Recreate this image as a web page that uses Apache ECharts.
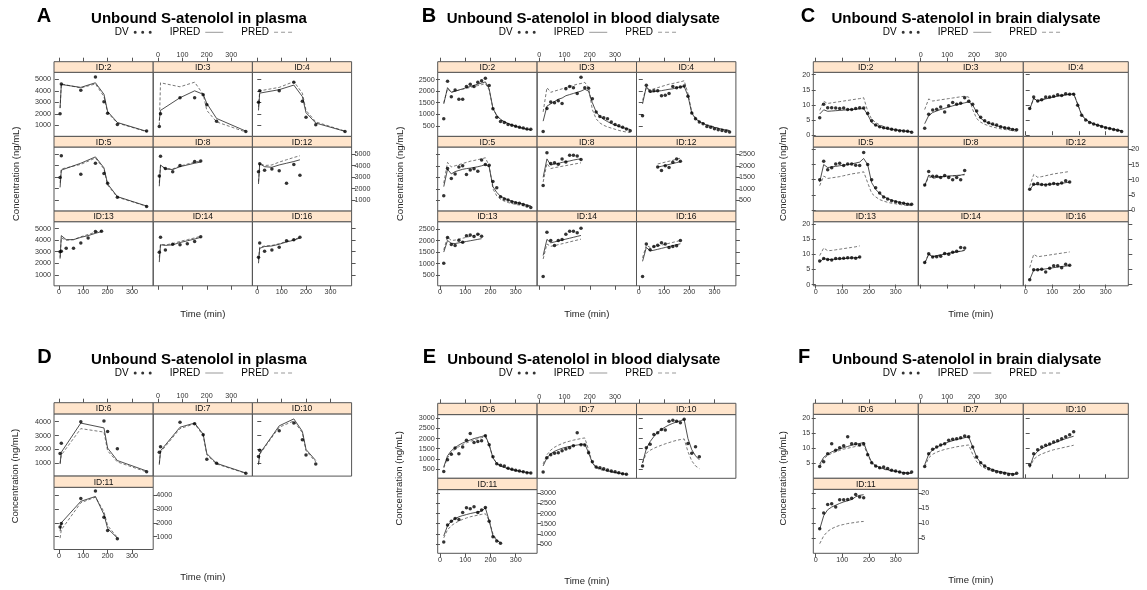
<!DOCTYPE html>
<html><head><meta charset="utf-8">
<script src="https://cdn.jsdelivr.net/npm/echarts@6/dist/echarts.min.js"></script>
<style>html,body{margin:0;padding:0;background:#fff}#c{width:1147px;height:590px}</style>
</head><body><div id="c"></div>
<script>
// ---------- sampling times ----------
const T_PL   = [5, 10, 90, 150, 185, 200, 240, 360];
const T_PL6  = [5, 10, 90, 185, 200, 240, 360];
const T_PL10 = [5, 10, 90, 150, 185, 200, 240];
const T_PL8  = [5, 10, 30, 60, 90, 150, 175];
const T_PLS  = [5, 10, 30, 60, 90, 120, 150, 175];
const T_DL   = [15,30,45,60,75,90,105,120,135,150,165,180,195,210,225,240,255,270,285,300,315,330,345,360];
const T_DL345= [15,30,45,60,75,90,105,120,135,150,165,180,195,210,225,240,255,270,285,300,315,330,345];
const T_DL240= [15,30,45,60,75,90,105,120,135,150,165,180,195,210,225,240];
const T_DS   = [15,30,45,60,75,90,105,120,135,150,165];
const T_DS180= [15,30,45,60,75,90,105,120,135,150,165,180];
const T_D12  = [75,90,105,120,135,150,165];

// ---------- A: plasma ----------
const A_ids = ['ID:2','ID:3','ID:4','ID:5','ID:8','ID:12','ID:13','ID:14','ID:16'];
const A_time = [T_PL,T_PL,T_PL,T_PL,T_PL8,T_PLS,T_PLS,T_PLS,T_PLS];
const A_dv = [
 [2000,4600,4050,5200,3050,2050,1080,500],
 [900,2000,3400,3400,3670,2800,1350,475],
 [3000,4000,4000,4740,3100,1700,1050,475],
 [2950,4850,3250,4200,3300,2450,1250,450],
 [3100,4800,3750,3450,4000,4350,4400],
 [3450,4150,3600,3700,3550,2450,4100,3150],
 [3000,3050,3300,3300,3750,4200,4750,4780],
 [2950,4250,3150,3650,3600,3700,3900,4300],
 [2520,3750,3050,3150,3400,3950,4050,4250]];
const A_ipred = [
 [2500,4550,4300,4700,3700,2200,1250,480],
 [1400,2300,3400,4000,3700,2900,1600,500],
 [2300,3800,4100,4500,3500,2100,1200,480],
 [2100,3600,4200,4750,3800,2400,1300,480],
 [2200,4050,3700,3650,3900,4200,4300],
 [2400,4150,3900,3850,4050,4200,4350,4500],
 [2400,4400,4050,4050,4250,4400,4600,4750],
 [2100,3600,3550,3600,3800,3950,4100,4250],
 [2000,3300,3450,3500,3650,3850,4000,4200]];
const A_pred = [
 [2500,4600,4250,4600,3500,2100,1200,450],
 [1000,4700,4350,4750,3700,2300,1300,420],
 [2600,4000,4300,4800,3800,2300,1300,500],
 [2500,3700,4100,4650,3700,2300,1250,460],
 [2500,4000,3750,3700,3950,4300,4400],
 [2600,4200,4000,4050,4300,4500,4700,4850],
 [2500,4200,4000,4050,4300,4500,4700,4850],
 [2500,3650,3600,3700,3900,4050,4200,4350],
 [2300,3400,3500,3550,3700,3900,4050,4250]];

// ---------- B: blood dialysate ----------
const B_ids = ['ID:2','ID:3','ID:4','ID:5','ID:8','ID:12','ID:13','ID:14','ID:16'];
const B_time = [T_DL,T_DL,T_DL,T_DL,T_DS,T_D12,T_DS,T_DS,T_DS];
const B_dv = [
 [800,2430,1760,2050,1650,1650,2200,2300,2200,2380,2450,2560,2240,1240,870,690,640,560,520,480,440,400,360,350],
 [250,1250,1530,1500,1580,1460,2100,2200,2150,1900,2600,2150,2120,1670,1100,900,850,800,660,550,500,440,360,280],
 [930,2250,2000,2020,2020,1800,1820,1900,2200,2150,2180,2220,1780,1050,800,660,590,470,440,370,330,300,260,230],
 [700,1880,1450,1650,1950,2000,1620,1820,1870,1760,2250,2060,2020,1320,1050,660,560,520,450,400,380,330,260,200],
 [1150,2570,2100,2130,2070,2300,2170,2460,2460,2420,2270],
 [1950,1800,2000,1930,2150,2300,2200],
 [1020,2130,1830,1780,2010,1930,2210,2240,2170,2270,2190],
 [440,2360,2000,1780,2000,2040,2275,2400,2400,2340,2530],
 [440,1850,1600,1740,1800,1900,1850,1700,1740,1770,2000]];
const B_ipred = [
 [1450,2150,1950,2000,2050,2100,2150,2200,2250,2300,2350,2400,2100,1250,950,780,680,600,540,480,430,390,350,320],
 [700,1350,1450,1550,1650,1700,1800,1850,1900,1950,2000,2080,2000,1500,1100,900,780,680,600,530,470,420,380,340],
 [1450,2200,1950,1980,2000,2020,2050,2080,2100,2150,2180,2200,1800,1050,800,680,600,530,480,430,390,350,320,290],
 [1100,1850,1650,1750,1800,1850,1880,1900,1930,1960,2000,2050,1950,1100,850,680,600,530,470,420,380,340,300,270],
 [1500,2300,2030,2080,2100,2150,2180,2210,2250,2280,2300],
 [1950,1980,2020,2060,2100,2140,2180],
 [1500,2000,1880,1870,1900,1930,1960,1990,2020,2050,2080],
 [1350,2050,1900,1940,1980,2020,2060,2100,2140,2180,2220],
 [1100,1700,1550,1580,1620,1660,1700,1740,1780,1820,1860]];
const B_pred = [
 [1500,2100,1950,2000,2040,2080,2120,2160,2200,2240,2280,2330,2050,1250,930,760,660,590,530,470,420,380,340,310],
 [1100,2150,1950,2000,2050,2100,2150,2200,2250,2300,2330,2380,2150,1200,800,620,520,450,400,350,300,260,230,210],
 [1600,2150,2050,2100,2150,2200,2250,2300,2330,2370,2400,2450,1900,1100,850,700,620,550,500,450,400,360,330,300],
 [1250,2150,1950,2000,2050,2100,2150,2200,2230,2270,2300,2350,2000,1000,700,550,470,410,370,330,300,270,250,230],
 [1300,2100,1880,1920,1950,1980,2010,2040,2070,2100,2130],
 [2080,2120,2160,2200,2240,2290,2330],
 [1600,2150,2000,2020,2060,2100,2140,2180,2220,2260,2300],
 [1200,1850,1750,1780,1820,1860,1900,1940,1980,2020,2060],
 [1250,1800,1700,1730,1760,1800,1840,1880,1920,1960,2000]];

// ---------- C: brain dialysate ----------
const C_ids = ['ID:2','ID:3','ID:4','ID:5','ID:8','ID:12','ID:13','ID:14','ID:16'];
const C_time = [T_DL,T_DL,T_DL,T_DL,T_DS,T_DS,T_DS,T_DS,T_DS];
const C_dv = [
 [5.8,10.2,9.1,9.1,9.0,8.8,9.0,8.5,8.5,8.8,9.1,9.0,7.2,4.8,3.4,2.8,2.5,2.3,2.0,1.7,1.5,1.4,1.3,1.0],
 [2.3,6.9,8.3,8.6,9.3,7.7,9.7,10.8,10.2,10.6,12.4,11.2,10.2,8.0,5.9,4.8,4.1,3.7,3.4,2.8,2.5,2.3,1.9,1.8],
 [8.8,12.6,11.3,11.7,12.6,12.6,12.9,13.4,13.1,13.7,13.5,13.5,9.9,6.6,5.0,4.2,3.7,3.3,2.9,2.5,2.2,1.9,1.6,1.2],
 [10.0,16.1,13.3,13.9,15.2,15.4,14.7,15.2,15.2,14.8,14.7,19.0,15.0,10.0,7.3,5.6,4.3,3.6,3.0,2.7,2.4,2.2,1.9,1.9],
 [8.2,12.7,11.1,11.1,10.7,11.4,10.7,10.0,10.7,10.0,13.0],
 [6.8,8.5,8.7,8.4,8.2,8.5,8.7,8.5,8.9,9.6,9.2],
 [7.8,8.6,8.3,8.1,8.6,8.6,8.7,8.9,8.9,8.7,9.1],
 [7.3,10.2,9.1,9.2,9.4,10.3,10.0,10.7,11.0,12.3,12.1],
 [1.6,4.9,4.9,5.1,4.2,5.4,6.2,6.2,5.6,6.7,6.4]];
const C_ipred = [
 [7.0,8.4,7.9,8.0,8.1,8.2,8.3,8.4,8.5,8.6,8.7,8.8,6.8,4.2,3.3,2.8,2.4,2.1,1.9,1.7,1.5,1.4,1.2,1.1],
 [3.8,6.5,7.5,8.0,8.5,8.9,9.3,9.7,10.1,10.4,10.7,11.0,10.0,7.6,5.6,4.6,4.0,3.5,3.1,2.8,2.5,2.2,2.0,1.8],
 [8.5,12.3,11.2,11.6,12.0,12.3,12.6,12.9,13.1,13.3,13.5,13.7,10.2,6.6,5.2,4.3,3.7,3.3,2.9,2.5,2.2,1.9,1.6,1.4],
 [9.2,15.0,14.0,14.2,14.4,14.6,14.8,15.0,15.2,15.5,15.8,17.0,15.0,9.0,6.8,5.4,4.4,3.7,3.2,2.8,2.5,2.2,2.0,1.8],
 [8.0,11.5,10.8,10.9,11.0,11.1,11.2,11.3,11.4,11.5,11.8],
 [6.5,8.5,8.3,8.3,8.4,8.5,8.6,8.7,8.8,9.0,9.2],
 [7.5,8.6,8.3,8.3,8.4,8.5,8.6,8.7,8.8,8.9,9.0],
 [7.0,10.0,9.2,9.5,9.8,10.1,10.3,10.6,10.8,11.0,11.3],
 [1.6,4.8,4.9,5.0,5.2,5.4,5.6,5.8,6.0,6.1,6.3]];
const C_pred = [
 [8.2,11.2,10.5,10.7,10.9,11.1,11.3,11.5,11.7,11.9,12.1,12.4,8.0,5.3,4.2,3.4,2.9,2.5,2.2,1.9,1.7,1.5,1.3,1.2],
 [8.5,12.0,11.3,11.5,11.7,11.9,12.1,12.3,12.5,12.7,12.9,12.6,8.5,5.5,4.3,3.6,3.1,2.7,2.4,2.1,1.9,1.7,1.5,1.3],
 [8.8,12.0,11.5,11.8,12.2,12.5,12.8,13.0,13.2,13.4,13.6,13.8,10.4,6.8,5.3,4.4,3.8,3.4,3.0,2.6,2.3,2.0,1.7,1.5],
 [8.0,11.2,10.4,10.6,10.8,11.0,11.3,11.6,11.9,12.1,12.3,12.6,9.0,5.5,4.3,3.4,2.9,2.5,2.2,2.0,1.8,1.6,1.5,1.4],
 [7.8,11.0,10.4,10.6,10.8,11.0,11.1,11.2,11.3,11.4,11.6],
 [7.8,11.7,10.8,11.0,11.3,11.6,11.9,12.1,12.3,12.5,12.7],
 [9.6,12.1,11.2,11.3,11.5,11.7,11.9,12.1,12.3,12.5,12.8],
 [7.2,10.2,9.3,9.6,9.9,10.2,10.4,10.7,10.9,11.1,11.4],
 [5.6,10.0,9.2,9.4,9.6,9.8,10.0,10.2,10.4,10.6,10.8]];

// ---------- D: plasma ----------
const D_ids = ['ID:6','ID:7','ID:10','ID:11'];
const D_time = [T_PL6,T_PL,T_PL10,T_PL10];
const D_dv = [
 [1700,2450,4000,4050,3300,2050,400],
 [1800,2200,3950,3850,3050,1300,1000,280],
 [1500,1950,3350,3900,2700,1600,950],
 [1700,1950,3750,4300,2400,1450,850]];
const D_ipred = [
 [950,1800,3900,3550,2100,1200,450],
 [900,1900,3600,3900,3100,1700,1000,300],
 [900,1700,3700,4200,3300,2000,1200],
 [1400,2000,3550,3900,2600,1600,900]];
const D_pred = [
 [1000,1600,3500,3250,1900,1100,380],
 [1000,1800,3500,3850,3000,1600,950,280],
 [950,1650,3600,4050,3200,1900,1100],
 [900,1500,3450,3850,2800,1800,950]];

// ---------- E: blood dialysate ----------
const E_ids = ['ID:6','ID:7','ID:10','ID:11'];
const E_time = [T_DL,T_DL345,T_DL240,T_DL240];
const E_dv = [
 [380,950,1220,1530,1250,1580,1920,2250,1810,1860,1890,2140,1690,1100,760,680,650,535,485,435,400,365,315,300],
 [350,1050,1200,1280,1300,1400,1480,1550,1640,2280,1690,1680,1300,860,600,565,515,450,400,365,315,265,235],
 [650,1550,1720,2200,2280,2450,2420,2850,2900,2850,2780,2950,1750,1280,1600,1100],
 [600,1430,1620,1760,1700,2050,2280,2230,2330,2050,2170,2300,1620,850,650,530]];
const E_ipred = [
 [600,1150,1400,1550,1680,1780,1860,1930,2000,2050,2100,2150,1700,1050,780,650,580,520,470,430,390,360,330,300],
 [650,1050,1250,1370,1450,1520,1570,1610,1650,1680,1710,1730,1300,800,600,520,460,410,370,330,300,270,240],
 [800,1500,1850,2100,2300,2450,2570,2670,2750,2820,2880,2930,2000,1450,1150,950],
 [900,1400,1620,1750,1840,1900,1950,2000,2040,2080,2120,2280,1650,900,680,560]];
const E_pred = [
 [550,1050,1300,1470,1600,1700,1790,1860,1930,1990,2040,2090,1680,1050,770,640,570,510,460,420,380,350,320,290],
 [750,1200,1430,1570,1670,1750,1820,1870,1920,1960,2000,2030,1450,800,550,470,420,380,340,310,280,250,230],
 [800,1280,1420,1520,1600,1670,1740,1800,1860,1910,1950,1980,1350,900,650,520],
 [800,1200,1400,1530,1630,1710,1780,1840,1880,1920,1960,1990,1650,1000,700,550]];

// ---------- F: brain dialysate ----------
const F_ids = ['ID:6','ID:7','ID:10','ID:11'];
const F_time = [T_DL,T_DL,T_DS180,T_DS180];
const F_dv = [
 [3.9,5.5,8.2,11.5,9.3,10.2,10.8,13.8,11.5,11.5,11.1,11.5,7.8,5.2,4.1,3.5,3.8,3.3,2.7,2.4,2.1,1.7,1.7,2.1],
 [3.9,8.2,9.7,10.4,11.1,11.5,12.7,13.0,13.2,13.5,14.1,13.8,10.4,7.1,5.2,4.1,3.2,2.7,2.2,1.9,1.7,1.3,1.3,1.7],
 [4.4,8.2,9.5,10.4,11.0,11.4,12.1,12.5,13.2,13.8,14.5,15.5],
 [8.2,13.4,16.2,16.5,15.4,17.8,17.8,17.9,18.3,19.6,18.7,18.5]];
const F_ipred = [
 [4.7,7.0,8.0,8.8,9.3,9.8,10.2,10.6,11.0,11.3,11.6,11.9,8.3,5.3,4.2,3.6,3.2,2.9,2.6,2.3,2.1,1.9,1.8,1.7],
 [4.5,8.0,9.5,10.4,11.0,11.6,12.1,12.5,12.9,13.2,13.5,13.8,10.5,7.0,5.2,4.1,3.4,2.9,2.5,2.2,1.9,1.7,1.5,1.4],
 [3.8,7.5,9.0,9.9,10.6,11.2,11.7,12.2,12.7,13.2,13.6,14.0],
 [8.0,12.5,14.5,15.4,16.0,16.6,17.1,17.5,17.9,18.8,19.3,19.5]];
const F_pred = [
 [4.0,6.5,7.6,8.3,8.8,9.3,9.7,10.0,10.3,10.6,10.9,11.1,7.8,5.0,3.9,3.4,3.0,2.7,2.4,2.2,2.0,1.8,1.7,1.6],
 [3.8,6.8,8.0,8.7,9.2,9.6,9.9,10.2,10.5,10.7,10.9,11.1,8.0,5.5,4.2,3.4,2.9,2.5,2.2,1.9,1.7,1.5,1.4,1.3],
 [3.5,6.3,7.4,8.1,8.6,9.1,9.5,9.8,10.1,10.4,10.7,11.0],
 [3.2,5.8,7.3,8.2,8.8,9.3,9.6,9.9,10.1,10.3,10.5,10.6]];

// ---------- tick labels / texts ----------
const X_TICKS = [0, 100, 200, 300];
const A_YT = [1000, 2000, 3000, 4000, 5000];
const B_YT = [500, 1000, 1500, 2000, 2500];
const C_YT = [0, 5, 10, 15, 20];
const D_YT = [1000, 2000, 3000, 4000];
const E_YT = [500, 1000, 1500, 2000, 2500, 3000];
const F_YT = [5, 10, 15, 20];
const Y_LABEL = 'Concentration (ng/mL)';
const X_LABEL = 'Time (min)';

// ---------- build ----------
const FONT = 'Liberation Sans, Arial, Helvetica, sans-serif';
const option = {animation:false, backgroundColor:'#fff', title:[], legend:[], grid:[], xAxis:[], yAxis:[], series:[], graphic:{elements:[]}};
const ICON_DOTS = 'path://M1.5,0A1.5,1.5,0,1,1,1.5,3A1.5,1.5,0,1,1,1.5,0Z M9,0A1.5,1.5,0,1,1,9,3A1.5,1.5,0,1,1,9,0Z M16.5,0A1.5,1.5,0,1,1,16.5,3A1.5,1.5,0,1,1,16.5,0Z';
const ICON_LINE = 'path://M0,0H18V1H0Z';
const ICON_DASH = 'path://M0,0H4V1H0Z M7,0H11V1H7Z M14,0H18V1H14Z';
const TICK = {length:4, inside:false, lineStyle:{color:'#555', width:1}};
const LAB = {fontSize:7.2, color:'#333', fontFamily:FONT, margin:3, formatter:(v) => String(v)};

function axisCfg(showTick, showLab, ticks) {
  return {
    axisLine:{show:false}, splitLine:{show:false},
    axisTick:Object.assign({show:showTick, customValues:ticks}, TICK),
    axisLabel:Object.assign({show:showLab, customValues:ticks}, LAB)
  };
}

function addFigure(s, ids, times, dv, ipred, pred) {
  const pc = s.left + 1.5 * s.pw;
  option.title.push({text:s.letter, left:s.letterX, top:s.legY - 16.5 - 11, textAlign:'center', padding:0,
    textStyle:{fontSize:20, fontWeight:'bold', color:'#000', fontFamily:FONT, lineHeight:22}});
  option.title.push({text:s.title, left:s.titleX, top:s.legY - 14.3 - 8.5, textAlign:'center', padding:0,
    textStyle:{fontSize:15, fontWeight:'bold', color:'#000', fontFamily:FONT, lineHeight:17}});
  option.legend.push({left:pc - 88, top:s.legY - 6, padding:0, itemGap:18, itemWidth:18, itemHeight:8,
    align:'right', selectedMode:false, textStyle:{fontSize:10, color:'#000', fontFamily:FONT},
    data:[{name:'DV', icon:ICON_DOTS, itemStyle:{color:'#000'}},
          {name:'IPRED', icon:ICON_LINE, itemStyle:{color:'#999'}},
          {name:'PRED', icon:ICON_DASH, itemStyle:{color:'#999'}}]});
  const n = ids.length, nrow = Math.ceil(n / 3);
  ids.forEach((id, k) => {
    const r = Math.floor(k / 3), c = k % 3;
    const sTop = s.stripTop + r * (s.stripH + s.plotH);
    const pTop = sTop + s.stripH;
    const x0 = s.left + c * s.pw;
    const gi = option.grid.length;
    option.grid.push({left:x0, top:pTop, width:s.pw, height:s.plotH, show:true, borderColor:'#555', borderWidth:1, backgroundColor:'rgba(0,0,0,0)'});
    option.graphic.elements.push({type:'rect', shape:{x:x0, y:sTop, width:s.pw, height:s.stripH},
      style:{fill:'#FFE5CC', stroke:'#555', lineWidth:1}, silent:true, z:5});
    option.graphic.elements.push({type:'text', x:x0 + s.pw / 2, y:sTop + s.stripH / 2 + 0.5,
      style:{text:id, fontSize:8.5, fontFamily:FONT, fill:'#111', align:'center', verticalAlign:'middle', textAlign:'center', textVerticalAlign:'middle'}, silent:true, z:6});
    const lastRow = (r === nrow - 1);
    const xi = option.xAxis.length;
    option.xAxis.push(Object.assign({gridIndex:gi, type:'value', min:s.xr[0], max:s.xr[1], position:'bottom'},
      axisCfg(lastRow, lastRow && c !== 1, X_TICKS)));
    if (r === 0) {
      option.xAxis.push(Object.assign({gridIndex:gi, type:'value', min:s.xr[0], max:s.xr[1], position:'top', offset:s.stripH},
        axisCfg(true, c === 1, X_TICKS)));
    }
    const yi = option.yAxis.length;
    option.yAxis.push(Object.assign({gridIndex:gi, type:'value', min:s.yr[0], max:s.yr[1], position:'left'},
      axisCfg(c === 0, c === 0 && r % 2 === 0, s.yt)));
    if (c === 2 || k === n - 1) {
      option.yAxis.push(Object.assign({gridIndex:gi, type:'value', min:s.yr[0], max:s.yr[1], position:'right'},
        axisCfg(true, r % 2 === 1, s.yt)));
    }
    const t = times[k];
    option.series.push({type:'line', name:'PRED', xAxisIndex:xi, yAxisIndex:yi, showSymbol:false, silent:true,
      data:t.map((v, i) => [v, pred[k][i]]), lineStyle:{color:'#555', width:0.8, type:[3, 2]}, itemStyle:{color:'#555'}, z:2});
    option.series.push({type:'line', name:'IPRED', xAxisIndex:xi, yAxisIndex:yi, showSymbol:false, silent:true,
      data:t.map((v, i) => [v, ipred[k][i]]), lineStyle:{color:'#222', width:0.8}, itemStyle:{color:'#222'}, z:3});
    option.series.push({type:'scatter', name:'DV', xAxisIndex:xi, yAxisIndex:yi, symbolSize:3.5, silent:true,
      data:t.map((v, i) => [v, dv[k][i]]), itemStyle:{color:'#000'}, z:4});
  });
  const yc = s.stripTop + nrow * (s.stripH + s.plotH) / 2;
  option.graphic.elements.push({type:'text', x:s.ylabX, y:yc, rotation:Math.PI / 2,
    style:{text:Y_LABEL, fontSize:9.5, fontFamily:FONT, fill:'#222', align:'center', verticalAlign:'middle', textAlign:'center', textVerticalAlign:'middle'}, silent:true});
  option.graphic.elements.push({type:'text', x:pc, y:s.xlabY,
    style:{text:X_LABEL, fontSize:9.5, fontFamily:FONT, fill:'#222', align:'center', verticalAlign:'middle', textAlign:'center', textVerticalAlign:'middle'}, silent:true});
}

const rowTop = {stripTop:61.7, stripH:10.6, plotH:64.1, legY:33.3, xlabY:314};
addFigure(Object.assign({letter:'A', title:'Unbound S-atenolol in plasma', letterX:44, titleX:199, left:54, pw:99.2,
  xr:[-20, 387], yr:[40, 5610], yt:A_YT, ylabX:16}, rowTop), A_ids, A_time, A_dv, A_ipred, A_pred);
addFigure(Object.assign({letter:'B', title:'Unbound S-atenolol in blood dialysate', letterX:429, titleX:583.3, left:437.7, pw:99.4,
  xr:[-9, 385], yr:[40, 2815], yt:B_YT, ylabX:400}, rowTop), B_ids, B_time, B_dv, B_ipred, B_pred);
addFigure(Object.assign({letter:'C', title:'Unbound S-atenolol in brain dialysate', letterX:808, titleX:966, left:813.3, pw:105,
  xr:[-9, 385], yr:[-0.4, 20.8], yt:C_YT, ylabX:783}, rowTop), C_ids, C_time, C_dv, C_ipred, C_pred);
addFigure({letter:'D', title:'Unbound S-atenolol in plasma', letterX:44.5, titleX:199, left:54, pw:99.2,
  stripTop:402.7, stripH:11.2, plotH:62.2, legY:374, xlabY:577.3,
  xr:[-20, 387], yr:[80, 4560], yt:D_YT, ylabX:15}, D_ids, D_time, D_dv, D_ipred, D_pred);
addFigure({letter:'E', title:'Unbound S-atenolol in blood dialysate', letterX:429.5, titleX:583.8, left:437.7, pw:99.4,
  stripTop:403.3, stripH:11.3, plotH:63.7, legY:374, xlabY:581.7,
  xr:[-9, 385], yr:[40, 3180], yt:E_YT, ylabX:399}, E_ids, E_time, E_dv, E_ipred, E_pred);
addFigure({letter:'F', title:'Unbound S-atenolol in brain dialysate', letterX:804, titleX:966.7, left:813.3, pw:105,
  stripTop:403.3, stripH:11, plotH:64, legY:374, xlabY:580.7,
  xr:[-9, 385], yr:[0, 21.3], yt:F_YT, ylabX:783}, F_ids, F_time, F_dv, F_ipred, F_pred);

const chart = echarts.init(document.getElementById('c'), null, {renderer:'canvas'});
chart.setOption(option);
</script></body></html>
